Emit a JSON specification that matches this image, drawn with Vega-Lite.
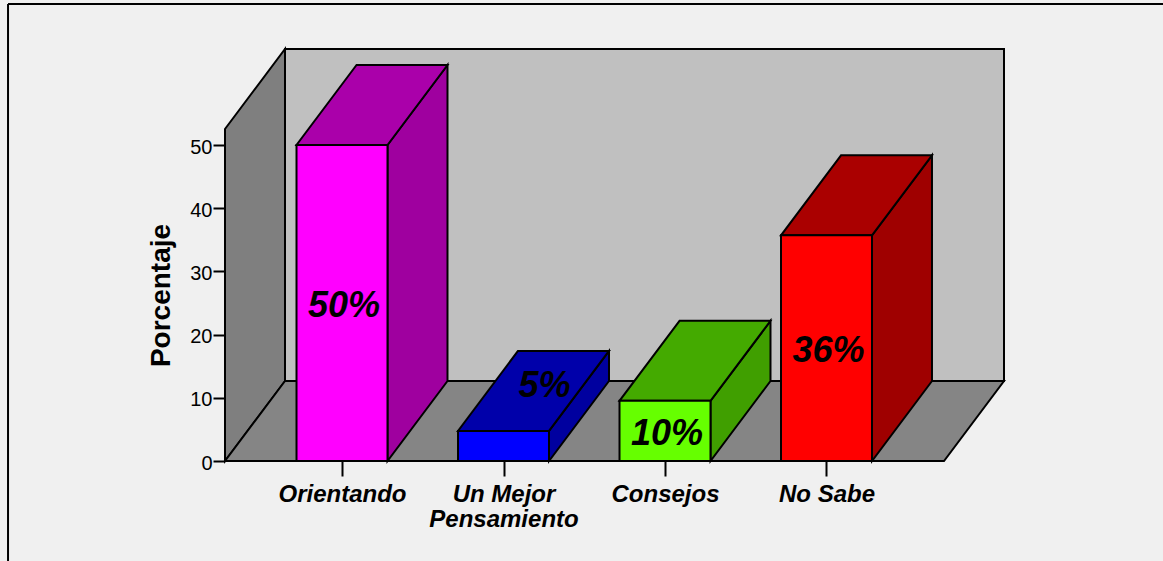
{
"$schema":"https://vega.github.io/schema/vega-lite/v6.json",
"width":779,"height":412,
"autosize":{"type":"none"},
"padding":{"left":225,"top":49,"right":159,"bottom":100},
"background":"#F0F0F0",
"config":{"view":{"stroke":null},"font":"Liberation Sans"},
"datasets":{
"barras":[
{"categoria":"Orientando","pos":1,"porcentaje":50,"etiqueta":"50%"},
{"categoria":"Un Mejor Pensamiento","pos":2,"porcentaje":4.76,"etiqueta":"5%"},
{"categoria":"Consejos","pos":3,"porcentaje":9.52,"etiqueta":"10%"},
{"categoria":"No Sabe","pos":4,"porcentaje":35.71,"etiqueta":"36%"}
],
"prof":[{"t":0},{"t":1}]
},
"resolve":{"scale":{"fill":"independent"}},
"layer":[
{"data":{"values":[{"a":1}]},"mark":{"type":"rule","stroke":"#000000","strokeWidth":2},
 "encoding":{"x":{"datum":-1.068,"type":"quantitative","title":null,"scale":{"domain":[0.2755,5.0991],"nice":false,"zero":false},
   "axis":{"values":[1,2,3,4],"title":null,"grid":false,"domain":false,"tickSize":15,"tickWidth":2,"tickColor":"#000000","labelColor":"#000000","labelFont":"Liberation Sans","labelFontSize":24,"labelFontStyle":"italic","labelFontWeight":"bold","labelPadding":6,"labelLineHeight":25,"labelOverlap":false,"labelFlush":false,"labelExpr":"datum.value==1?'Orientando':datum.value==2?['Un Mejor','Pensamiento']:datum.value==3?'Consejos':'No Sabe'"}},
  "y":{"datum":-15.82,"type":"quantitative","title":"Porcentaje","scale":{"domain":[0,65.19],"nice":false,"zero":false},
   "axis":{"values":[0,10,20,30,40,50],"title":"Porcentaje","grid":false,"domain":false,"tickSize":12,"tickWidth":2,"tickColor":"#000000","labelColor":"#000000","labelFont":"Liberation Sans","labelFontSize":20,"labelPadding":1,"labelOffset":2,"titleColor":"#000000","titleFont":"Liberation Sans","titleFontSize":28,"titleFontWeight":"bold","titleX":-64,"titleY":246,"titleAlign":"center","titleBaseline":"middle","titleAngle":-90}},
  "y2":{"datum":72.3}}},
{"data":{"values":[{"a":1}]},"mark":{"type":"rule","stroke":"#000000","strokeWidth":2},
 "encoding":{"x":{"datum":-1.068,"type":"quantitative","title":null},"x2":{"datum":6.1},"y":{"datum":72.3,"type":"quantitative","title":"Porcentaje"}}},
{"data":{"values":[{"a":1}]},"mark":{"type":"rect","fill":"#C0C0C0","stroke":"#000000","strokeWidth":2},
 "encoding":{"x":{"datum":0.647,"type":"quantitative","title":null},"x2":{"datum":5.0991},"y":{"datum":12.66,"type":"quantitative","title":"Porcentaje"},"y2":{"datum":65.19}}},
{"data":{"name":"prof"},"transform":[{"calculate":"0.2755+datum.t*0.3715","as":"xa"},{"calculate":"datum.t*12.66","as":"ya"},{"calculate":"52.53+datum.t*12.66","as":"yb"}],
 "mark":{"type":"area","fill":"#7F7F7F","stroke":"#000000","strokeWidth":2},
 "encoding":{"x":{"field":"xa","type":"quantitative","title":null},"y":{"field":"ya","type":"quantitative","title":"Porcentaje","stack":null},"y2":{"field":"yb"}}},
{"data":{"name":"prof"},"transform":[{"calculate":"0.2755+datum.t*0.3715","as":"xa"},{"calculate":"4.7276+datum.t*0.3715","as":"xb"},{"calculate":"datum.t*12.66","as":"ya"}],
 "mark":{"type":"area","orient":"horizontal","fill":"#858585","stroke":"#000000","strokeWidth":2},
 "encoding":{"y":{"field":"ya","type":"quantitative","title":"Porcentaje"},"x":{"field":"xa","type":"quantitative","title":null,"stack":null},"x2":{"field":"xb"}}},
{"data":{"name":"barras"},"transform":[{"calculate":"[0,1]","as":"t"},{"flatten":["t"]},{"calculate":"datum.pos+0.2817+datum.t*0.3715","as":"xa"},{"calculate":"datum.porcentaje+datum.t*12.66","as":"ya"},{"calculate":"datum.t*12.66","as":"yb"}],
 "mark":{"type":"area","stroke":"#000000","strokeWidth":2},
 "encoding":{"x":{"field":"xa","type":"quantitative","title":null},"y":{"field":"ya","type":"quantitative","title":"Porcentaje","stack":null},"y2":{"field":"yb"},
  "fill":{"field":"categoria","type":"nominal","legend":null,"scale":{"domain":["Orientando","Un Mejor Pensamiento","Consejos","No Sabe"],"range":["#9F009F","#00009F","#409F00","#9F0000"]}}}},
{"data":{"name":"barras"},"transform":[{"calculate":"[0,1]","as":"t"},{"flatten":["t"]},{"calculate":"datum.pos-0.2817+datum.t*0.3715","as":"xa"},{"calculate":"datum.pos+0.2817+datum.t*0.3715","as":"xb"},{"calculate":"datum.porcentaje+datum.t*12.66","as":"ya"}],
 "mark":{"type":"area","orient":"horizontal","stroke":"#000000","strokeWidth":2},
 "encoding":{"y":{"field":"ya","type":"quantitative","title":"Porcentaje"},"x":{"field":"xa","type":"quantitative","title":null,"stack":null},"x2":{"field":"xb"},
  "fill":{"field":"categoria","type":"nominal","legend":null,"scale":{"domain":["Orientando","Un Mejor Pensamiento","Consejos","No Sabe"],"range":["#AA00AA","#0000AA","#44AA00","#AA0000"]}}}},
{"data":{"name":"barras"},"transform":[{"calculate":"datum.pos-0.2817","as":"xa"},{"calculate":"datum.pos+0.2817","as":"xb"}],
 "mark":{"type":"rect","stroke":"#000000","strokeWidth":2},
 "encoding":{"x":{"field":"xa","type":"quantitative","title":null},"x2":{"field":"xb"},"y":{"field":"porcentaje","type":"quantitative","title":"Porcentaje"},"y2":{"datum":0},
  "fill":{"field":"categoria","type":"nominal","legend":null,"scale":{"domain":["Orientando","Un Mejor Pensamiento","Consejos","No Sabe"],"range":["#FF00FF","#0000FF","#66FF00","#FF0000"]}}}},
{"data":{"name":"barras"},"transform":[{"filter":"datum.pos!=2"},{"calculate":"datum.porcentaje/2","as":"ym"}],
 "mark":{"type":"text","font":"Liberation Sans","fontSize":36,"fontStyle":"italic","fontWeight":"bold","color":"#000000","dx":2,"dy":3},
 "encoding":{"x":{"field":"pos","type":"quantitative","title":null},"y":{"field":"ym","type":"quantitative","title":"Porcentaje"},"text":{"field":"etiqueta"}}},
{"data":{"name":"barras"},"transform":[{"filter":"datum.pos==2"},{"calculate":"datum.porcentaje/2","as":"ym"}],
 "mark":{"type":"text","font":"Liberation Sans","fontSize":36,"fontStyle":"italic","fontWeight":"bold","color":"#000000","dx":41,"dy":-60},
 "encoding":{"x":{"field":"pos","type":"quantitative","title":null},"y":{"field":"ym","type":"quantitative","title":"Porcentaje"},"text":{"field":"etiqueta"}}}
]
}
